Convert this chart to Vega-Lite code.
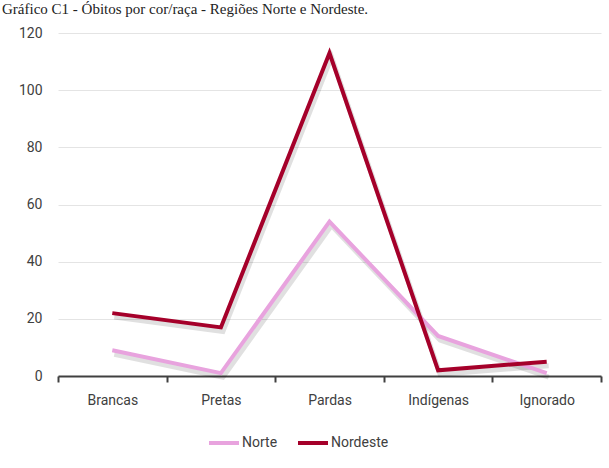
{
  "$schema": "https://vega.github.io/schema/vega-lite/v6.json",
  "width": 543,
  "height": 343,
  "autosize": "none",
  "padding": {"left": 58, "top": 33, "right": 8, "bottom": 92},
  "background": "white",
  "title": {
    "text": "Gráfico C1 - Óbitos por cor/raça - Regiões Norte e Nordeste.",
    "anchor": "start",
    "frame": "group",
    "font": "Liberation Serif",
    "fontSize": 15,
    "fontWeight": "normal",
    "color": "#222222",
    "dx": -56,
    "offset": 9
  },
  "data": {
    "values": [
      {"cor": "Brancas", "regiao": "Norte", "obitos": 9},
      {"cor": "Pretas", "regiao": "Norte", "obitos": 1},
      {"cor": "Pardas", "regiao": "Norte", "obitos": 54},
      {"cor": "Indígenas", "regiao": "Norte", "obitos": 14},
      {"cor": "Ignorado", "regiao": "Norte", "obitos": 1},
      {"cor": "Brancas", "regiao": "Nordeste", "obitos": 22},
      {"cor": "Pretas", "regiao": "Nordeste", "obitos": 17},
      {"cor": "Pardas", "regiao": "Nordeste", "obitos": 113},
      {"cor": "Indígenas", "regiao": "Nordeste", "obitos": 2},
      {"cor": "Ignorado", "regiao": "Nordeste", "obitos": 5}
    ]
  },
  "config": {
    "view": {"stroke": null},
    "font": "Roboto"
  },
  "encoding": {
    "x": {
      "field": "cor",
      "type": "nominal",
      "sort": ["Brancas", "Pretas", "Pardas", "Indígenas", "Ignorado"],
      "scale": {"type": "band", "paddingInner": 0, "paddingOuter": 0},
      "axis": {
        "title": null,
        "labelAngle": 0,
        "tickBand": "extent",
        "domainColor": "#404040",
        "domainWidth": 2,
        "tickColor": "#404040",
        "tickWidth": 2,
        "tickSize": 6,
        "labelFont": "Roboto",
        "labelFontSize": 14,
        "labelColor": "#404040",
        "labelPadding": 11,
        "grid": false
      }
    },
    "y": {
      "field": "obitos",
      "type": "quantitative",
      "scale": {"domain": [0, 120]},
      "axis": {
        "title": null,
        "values": [0, 20, 40, 60, 80, 100, 120],
        "domain": false,
        "ticks": false,
        "gridColor": "#e4e4e4",
        "gridWidth": 1,
        "labelFont": "Roboto",
        "labelFontSize": 14,
        "labelColor": "#404040",
        "labelPadding": 16
      }
    }
  },
  "layer": [
    {
      "mark": {"type": "line", "strokeWidth": 5, "color": "#000000", "opacity": 0.12, "xOffset": 2, "yOffset": 4},
      "encoding": {"detail": {"field": "regiao"}}
    },
    {
      "mark": {"type": "line", "strokeWidth": 4},
      "encoding": {
        "color": {
          "field": "regiao",
          "type": "nominal",
          "scale": {"domain": ["Norte", "Nordeste"], "range": ["#E8A3DE", "#A5002A"]},
          "legend": {
            "title": null,
            "orient": "none",
            "legendX": 149,
            "legendY": 393,
            "direction": "horizontal",
            "symbolType": "stroke",
            "symbolSize": 900,
            "symbolStrokeWidth": 4,
            "labelFont": "Roboto",
            "labelFontSize": 14,
            "labelColor": "#404040",
            "labelOffset": 1,
            "columnPadding": 12
          }
        }
      }
    }
  ]
}
